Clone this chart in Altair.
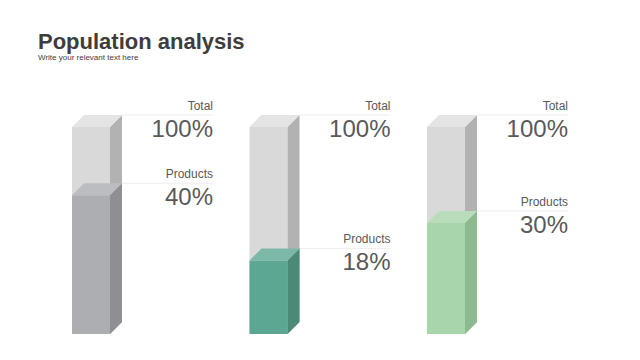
import altair as alt
import pandas as pd

# ---- data ----
columns = [0, 1, 2]
total_labels = ["Total", "Total", "Total"]
total_values = [100, 100, 100]
product_labels = ["Products", "Products", "Products"]
product_values = [40, 18, 30]
# visual fill height of each products block, as % of the column height
product_levels = [67.0, 35.5, 53.6]

total_front = "#d9d9d9"
total_side = "#b2b2b2"
total_top = "#e4e4e4"
product_front = ["#adaeb2", "#5ca694", "#a8d5aa"]
product_side = ["#8e8f92", "#4b8a77", "#8cba8f"]
product_top = ["#bcbdc0", "#7bb8a8", "#b9ddba"]

# ---- geometry (in scale units) ----
UNIT_PX = 177.5            # px per column slot
PX_PER_PCT = 2.07          # px per percent
W = 38 / UNIT_PX           # front width
DX = 12 / UNIT_PX          # depth in x
DY = 12 / PX_PER_PCT       # depth in y
LABEL_R = 141 / UNIT_PX    # label right edge from column left

boxes = []
for i, c in enumerate(columns):
    boxes.append(dict(box=f"t{i}", layer="total", L=c, R=c + W, bottom=0, top=total_values[i],
                      front=total_front, side=total_side, topc=total_top))
for i, c in enumerate(columns):
    boxes.append(dict(box=f"p{i}", layer="product", L=c, R=c + W, bottom=0, top=product_levels[i],
                      front=product_front[i], side=product_side[i], topc=product_top[i]))

front_rows, side_rows, top_rows = [], [], []
for b in boxes:
    front_rows.append(dict(box=b["box"], layer=b["layer"], x=b["L"], x2=b["R"], y=b["bottom"], y2=b["top"], color=b["front"]))
    side_rows.append(dict(box=b["box"], layer=b["layer"], x=b["R"], y=b["top"], y2=b["bottom"], color=b["side"]))
    side_rows.append(dict(box=b["box"], layer=b["layer"], x=b["R"] + DX, y=b["top"] + DY, y2=b["bottom"] + DY, color=b["side"]))
    top_rows.append(dict(box=b["box"], layer=b["layer"], y=b["top"], x=b["L"], x2=b["R"], color=b["topc"]))
    top_rows.append(dict(box=b["box"], layer=b["layer"], y=b["top"] + DY, x=b["L"] + DX, x2=b["R"] + DX, color=b["topc"]))

front_df = pd.DataFrame(front_rows)
side_df = pd.DataFrame(side_rows)
top_df = pd.DataFrame(top_rows)

label_rows = []
for i, c in enumerate(columns):
    label_rows.append(dict(x=c + LABEL_R, xs=c + W + DX, level=total_values[i], back=total_values[i] + DY,
                           cat=total_labels[i], val=f"{total_values[i]}%"))
    label_rows.append(dict(x=c + LABEL_R, xs=c + W + DX, level=product_levels[i], back=product_levels[i] + DY,
                           cat=product_labels[i], val=f"{product_values[i]}%"))
label_df = pd.DataFrame(label_rows)

# page px -> scale units (plot area spans page x 8..632, y 70..352)
x_scale = alt.Scale(domain=[(8 - 72) / UNIT_PX, (632 - 72) / UNIT_PX], nice=False, zero=False)
y_scale = alt.Scale(domain=[(334 - 352) / PX_PER_PCT, (334 - 70) / PX_PER_PCT], nice=False, zero=False)

FONT = "Liberation Sans"


def fronts(layer):
    return alt.Chart(front_df).transform_filter(alt.datum.layer == layer).mark_rect().encode(
        x=alt.X("x:Q", scale=x_scale, axis=None), x2="x2:Q",
        y=alt.Y("y:Q", scale=y_scale, axis=None), y2="y2:Q",
        color=alt.Color("color:N", scale=None))


def sides(layer):
    return alt.Chart(side_df).transform_filter(alt.datum.layer == layer).mark_area(opacity=1).encode(
        x=alt.X("x:Q", scale=x_scale, axis=None),
        y=alt.Y("y:Q", scale=y_scale, axis=None), y2="y2:Q",
        detail="box:N",
        color=alt.Color("color:N", scale=None))


def tops(layer):
    return alt.Chart(top_df).transform_filter(alt.datum.layer == layer).mark_area(orient="horizontal", opacity=1).encode(
        y=alt.Y("y:Q", scale=y_scale, axis=None),
        x=alt.X("x:Q", scale=x_scale, axis=None), x2="x2:Q",
        detail="box:N",
        color=alt.Color("color:N", scale=None))


guides = alt.Chart(label_df).mark_rule(color="#eeeeee", strokeWidth=1).encode(
    x=alt.X("xs:Q", scale=x_scale, axis=None), x2="x:Q",
    y=alt.Y("back:Q", scale=y_scale, axis=None))

cat_text = alt.Chart(label_df).mark_text(align="right", baseline="middle", font=FONT, fontSize=12,
                                         color="#595959", dy=-21.5).encode(
    x=alt.X("x:Q", scale=x_scale, axis=None),
    y=alt.Y("level:Q", scale=y_scale, axis=None),
    text="cat:N")

val_text = alt.Chart(label_df).mark_text(align="right", baseline="middle", font=FONT, fontSize=24,
                                         color="#595959", dy=2.5).encode(
    x=alt.X("x:Q", scale=x_scale, axis=None),
    y=alt.Y("level:Q", scale=y_scale, axis=None),
    text="val:N")

chart = alt.layer(
    guides,
    fronts("total"), sides("total"), tops("total"),
    fronts("product"), sides("product"), tops("product"),
    cat_text, val_text,
).properties(
    width=624, height=282,
    padding={"left": 0, "top": 62, "right": 0, "bottom": 0},
    autosize=alt.AutoSizeParams(type="none"),
    title=alt.TitleParams(
        text="Population analysis", subtitle="Write your relevant text here",
        anchor="start", frame="group", dx=30, offset=7,
        font=FONT, fontSize=22, fontWeight="bold", color="#3d3d3d",
        subtitleFont=FONT, subtitleFontSize=8, subtitleColor="#404040", subtitlePadding=0),
).configure(
    background="white",
    view=alt.ViewConfig(stroke=None),
)

chart.save("out.html", embed_options={"renderer": "svg", "actions": False})
